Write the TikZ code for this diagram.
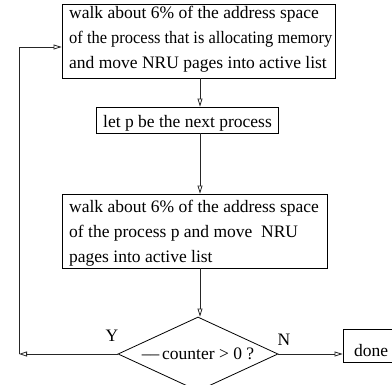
\documentclass[tikz,border=0pt]{standalone}
\usepackage{fontspec}
\setmainfont{Liberation Serif}
\usetikzlibrary{arrows.meta,shapes.geometric,calc}
\begin{document}
\begin{tikzpicture}[x=1pt,y=-1pt,
  box/.style={draw=black,line width=0.8pt,inner sep=0pt},
  txt/.style={inner sep=0pt,font=\fontsize{17.5}{25}\selectfont,align=left},
  arr/.style={draw=black!85,line width=0.8pt,-{Triangle[open,length=8pt,width=5pt]}},
  lbl/.style={inner sep=0pt,font=\fontsize{17.5}{25}\selectfont}]
\useasboundingbox (0,0) rectangle (392,385);
% boxes
\node[box,minimum width=273pt,minimum height=74pt] (b1) at (198.5,41) {};
\node[txt,anchor=north west] (t1) at (69,6) {walk about 6\% of the address space\\\scalebox{0.94}[1]{of the process that is allocating memory}\\and move NRU pages into active list};
\node[box,minimum width=182pt,minimum height=26pt] (b2) at (187,120) {};
\node[txt,anchor=base west] (t2) at (103,128) {let p be the next process};
\node[box,minimum width=265pt,minimum height=74pt] (b3) at (194.5,231) {};
\node[txt,anchor=north west] (t3) at (69,200) {walk about 6\% of the address space\\of the process p and move \ NRU\\pages into active list};
\node[draw=black,line width=0.8pt,diamond,aspect=2.16,minimum width=160pt,minimum height=74pt,inner sep=0pt,font=\fontsize{17.5}{25}\selectfont] (d) at (198,354) {––\,counter > 0 ?};
\node[box,minimum width=54pt,minimum height=33pt] (done) at (370,345.5) {};
\node[lbl,anchor=base west] (td) at (354,357) {done};
\node[lbl] (y) at (112,336) {Y};
\node[lbl] (n) at (284,340) {N};
% connectors
\coordinate (ax) at (200,0);
\coordinate (cl) at (19,354);
\coordinate (ct) at (19,47);
\draw[arr] (b1.south -| ax) -- (b2.north -| ax);
\draw[arr] (b2.south -| ax) -- (b3.north -| ax);
\draw[arr] (b3.south -| ax) -- (d.north -| ax);
\draw[arr] (d.west) -- (cl);
\draw[arr] (cl) -- (ct) -- (b1.west |- ct);
\draw[arr] (d.east) -- (done.west |- d.east);
\end{tikzpicture}
\end{document}
